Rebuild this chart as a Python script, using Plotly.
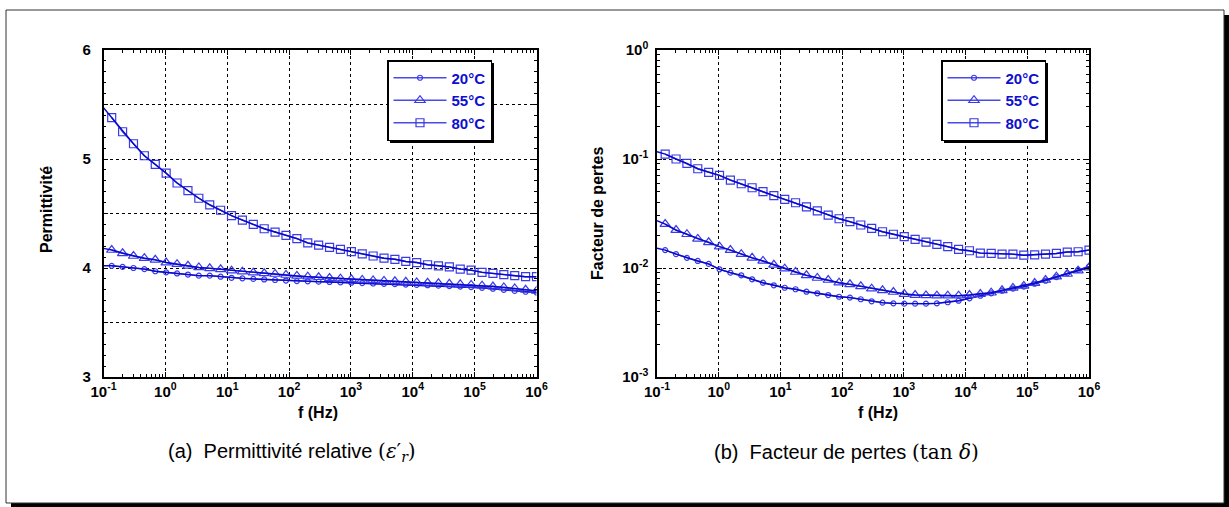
import plotly.graph_objects as go

# Measurement frequencies (Hz); the first entry (0.1 Hz) only anchors the curve at the axis edge
freq = [0.1, 0.1357, 0.2035, 0.3053, 0.4579, 0.6869, 1.030, 1.546, 2.318, 3.477, 5.216,
        7.824, 11.74, 17.60, 26.41, 39.61, 59.41, 89.12, 133.7, 200.5, 300.7,
        451.1, 676.7, 1015, 1523, 2284, 3426, 5139, 7707, 11562, 17342,
        26014, 39018, 58528, 87791, 131687, 197531, 296296, 444444, 666667, 1000000]

temps = ["20°C", "55°C", "80°C"]

# Relative permittivity
eps_20 = [4.02, 4.02, 4.01, 4.00, 3.99, 3.97, 3.96, 3.95, 3.94, 3.93, 3.93,
          3.92, 3.91, 3.905, 3.90, 3.895, 3.89, 3.885, 3.88, 3.878, 3.875,
          3.872, 3.868, 3.865, 3.862, 3.858, 3.855, 3.852, 3.848, 3.845, 3.842,
          3.838, 3.834, 3.83, 3.825, 3.818, 3.81, 3.80, 3.79, 3.782, 3.775]
eps_55 = [4.18, 4.165, 4.135, 4.11, 4.09, 4.075, 4.05, 4.035, 4.02, 4.005, 3.997,
          3.988, 3.975, 3.966, 3.957, 3.951, 3.945, 3.936, 3.927, 3.92, 3.915,
          3.908, 3.902, 3.896, 3.89, 3.886, 3.882, 3.878, 3.873, 3.868, 3.864,
          3.86, 3.855, 3.85, 3.845, 3.838, 3.83, 3.822, 3.812, 3.80, 3.79]
eps_80 = [5.47, 5.38, 5.25, 5.14, 5.03, 4.95, 4.87, 4.78, 4.71, 4.64, 4.58,
          4.53, 4.48, 4.44, 4.40, 4.36, 4.33, 4.30, 4.27, 4.23, 4.21,
          4.19, 4.17, 4.15, 4.13, 4.11, 4.09, 4.08, 4.06, 4.05, 4.03,
          4.02, 4.01, 3.99, 3.98, 3.96, 3.95, 3.94, 3.93, 3.92, 3.92]

# Loss factor tan(delta)
tan_20 = [0.0152, 0.0146, 0.0134, 0.0124, 0.0116, 0.0109, 0.00973, 0.00906, 0.00857, 0.00788, 0.00733,
          0.00694, 0.00659, 0.00638, 0.00606, 0.00586, 0.00565, 0.00545, 0.00535, 0.00517, 0.00495,
          0.00481, 0.00474, 0.00471, 0.00471, 0.00471, 0.00474, 0.00485, 0.00501, 0.00527, 0.00557,
          0.00586, 0.00619, 0.00646, 0.00674, 0.00717, 0.00764, 0.00826, 0.00893, 0.00960, 0.0103]
tan_55 = [0.0272, 0.0253, 0.0223, 0.0204, 0.0185, 0.0172, 0.0157, 0.0146, 0.0134, 0.0124, 0.0116,
          0.0107, 0.00986, 0.00919, 0.00857, 0.00810, 0.00776, 0.00733, 0.00708, 0.00679, 0.00646,
          0.00624, 0.00602, 0.00577, 0.00565, 0.00561, 0.00557, 0.00557, 0.00557, 0.00565, 0.00577,
          0.00593, 0.00624, 0.00656, 0.00685, 0.00728, 0.00776, 0.00832, 0.00881, 0.00945, 0.0101]
tan_80 = [0.1167, 0.111, 0.100, 0.0912, 0.0814, 0.0755, 0.0708, 0.0641, 0.0593, 0.0545, 0.0501,
          0.0461, 0.0427, 0.0397, 0.0363, 0.0334, 0.0306, 0.0283, 0.0266, 0.0248, 0.0231,
          0.0215, 0.0204, 0.0194, 0.0183, 0.0173, 0.0165, 0.0157, 0.0148, 0.0144, 0.0137,
          0.0136, 0.0134, 0.0134, 0.0131, 0.0132, 0.0134, 0.0136, 0.0140, 0.0141, 0.0146]

x_tickvals = [0.1, 1, 10, 100, 1e3, 1e4, 1e5, 1e6]
x_ticktext = ["10<sup>-1</sup>", "10<sup>0</sup>", "10<sup>1</sup>", "10<sup>2</sup>",
              "10<sup>3</sup>", "10<sup>4</sup>", "10<sup>5</sup>", "10<sup>6</sup>"]
eps_tickvals = [3, 3.5, 4, 4.5, 5, 5.5, 6]
eps_ticktext = ["3", "", "4", "", "5", "", "6"]
tan_tickvals = [1e-3, 1e-2, 1e-1, 1]
tan_ticktext = ["10<sup>-3</sup>", "10<sup>-2</sup>", "10<sup>-1</sup>", "10<sup>0</sup>"]

LINE = "#0808C8"
MARK = "#3A3AE6"
LEGLINE = "#4A4AEA"
TXT = "#0E0ECE"
symbols = ["circle-open", "triangle-up-open", "square-open"]
msizes = [5, 9, 8]

W, H = 1229, 507
FONT = "Liberation Sans, Arial, Helvetica, sans-serif"

fig = go.Figure()


def add_series(values, name, sym, ms, xa, ya, leg):
    # measured points (legend entry)
    fig.add_trace(go.Scatter(x=freq[1:], y=values[1:], mode="lines+markers", name=name,
                             xaxis=xa, yaxis=ya, legend=leg,
                             line=dict(color=LEGLINE, width=1.5),
                             marker=dict(symbol=sym, size=ms, color=MARK,
                                         line=dict(color=MARK, width=1.2))))
    # continuous curve from the axis edge
    fig.add_trace(go.Scatter(x=freq, y=values, mode="lines", xaxis=xa, yaxis=ya,
                             line=dict(color=LINE, width=1.4), showlegend=False,
                             hoverinfo="skip"))


for vals, name, sym, ms in zip([eps_20, eps_55, eps_80], temps, symbols, msizes):
    add_series(vals, name, sym, ms, "x", "y", "legend")
for vals, name, sym, ms in zip([tan_20, tan_55, tan_80], temps, symbols, msizes):
    add_series(vals, name, sym, ms, "x2", "y2", "legend2")


def px_x(p):
    return p / W


def px_y(p):
    return 1 - p / H


axis_common = dict(showline=True, linecolor="black", linewidth=1.5, mirror="ticks",
                   ticks="inside", tickcolor="black", ticklen=5, tickwidth=1,
                   showgrid=True, gridcolor="black", griddash="dot", gridwidth=1,
                   zeroline=False,
                   tickfont=dict(family=FONT, size=15, color="black", weight="bold"))

xaxis = dict(type="log", range=[-1, 6], tickmode="array", tickvals=x_tickvals,
             ticktext=x_ticktext,
             minor=dict(ticks="inside", ticklen=3, dtick="D1", tickcolor="black", showgrid=False),
             **axis_common)

LEG_TOP = 60
LEG_W, LEG_H = 104, 80
leg_style = dict(xanchor="left", yanchor="top",
                 bgcolor="white", bordercolor="black", borderwidth=1.5,
                 font=dict(family=FONT, size=15, color=TXT, weight="bold"),
                 itemwidth=53, tracegroupgap=0)

fig.update_layout(
    width=W, height=H,
    margin=dict(l=0, r=0, t=0, b=0, pad=0, autoexpand=False),
    paper_bgcolor="white", plot_bgcolor="white",
    xaxis=dict(domain=[px_x(103.5), px_x(536.5)], anchor="y", **xaxis),
    xaxis2=dict(domain=[px_x(657), px_x(1089)], anchor="y2", **xaxis),
    yaxis=dict(domain=[px_y(377), px_y(50)], anchor="x", range=[3, 6], tickmode="array",
               tickvals=eps_tickvals, ticktext=eps_ticktext, ticklabelstandoff=8,
               minor=dict(ticks="inside", ticklen=3, dtick=0.1, tickcolor="black", showgrid=False),
               **axis_common),
    yaxis2=dict(domain=[px_y(377), px_y(50)], anchor="x2", type="log", range=[-3, 0],
                tickmode="array", tickvals=tan_tickvals, ticktext=tan_ticktext,
                ticklabelstandoff=4,
                minor=dict(ticks="inside", ticklen=3, dtick="D1", tickcolor="black", showgrid=False),
                **axis_common),
    legend=dict(x=px_x(387), y=px_y(LEG_TOP), **leg_style),
    legend2=dict(x=px_x(941), y=px_y(LEG_TOP), **leg_style),
    showlegend=True,
)

shapes = []
# legend drop shadows
for x0 in (387, 941):
    shapes.append(dict(type="rect", xref="paper", yref="paper",
                       x0=px_x(x0 + 3), x1=px_x(x0 + LEG_W + 3),
                       y0=px_y(LEG_TOP + LEG_H + 3), y1=px_y(LEG_TOP + 3),
                       fillcolor="black", line=dict(width=0), layer="above"))
# outer frame with shadow
shapes.append(dict(type="rect", xref="paper", yref="paper",
                   x0=px_x(11), x1=px_x(1229), y0=px_y(507), y1=px_y(15),
                   fillcolor="black", line=dict(width=0), layer="below"))
shapes.append(dict(type="rect", xref="paper", yref="paper",
                   x0=px_x(6), x1=px_x(1224), y0=px_y(503), y1=px_y(10),
                   fillcolor="white", line=dict(color="#333333", width=1), layer="below"))
fig.update_layout(shapes=shapes)

ann_font = dict(family=FONT, size=16, color="black", weight="bold")
cap_font = dict(family=FONT, size=20, color="black")
annotations = [
    dict(text="Permittivité", x=px_x(46), y=px_y(210), textangle=-90, font=ann_font),
    dict(text="Facteur de pertes", x=px_x(598), y=px_y(214), textangle=-90, font=ann_font),
    dict(text="f (Hz)", x=px_x(318), y=px_y(412), font=ann_font),
    dict(text="f (Hz)", x=px_x(878), y=px_y(412), font=ann_font),
    dict(text="(a)  Permittivité relative "
              "<span style='font-family:DejaVu Serif'>(<i>ε</i>′<sub><i>r</i></sub>)</span>",
         x=px_x(292), y=px_y(452), font=cap_font),
    dict(text="(b)  Facteur de pertes "
              "<span style='font-family:DejaVu Serif'>(tan <i>δ</i>)</span>",
         x=px_x(846), y=px_y(452), font=cap_font),
]
for a in annotations:
    a.update(xref="paper", yref="paper", showarrow=False, xanchor="center", yanchor="middle")
fig.update_layout(annotations=annotations)

fig.write_html("out.html")
